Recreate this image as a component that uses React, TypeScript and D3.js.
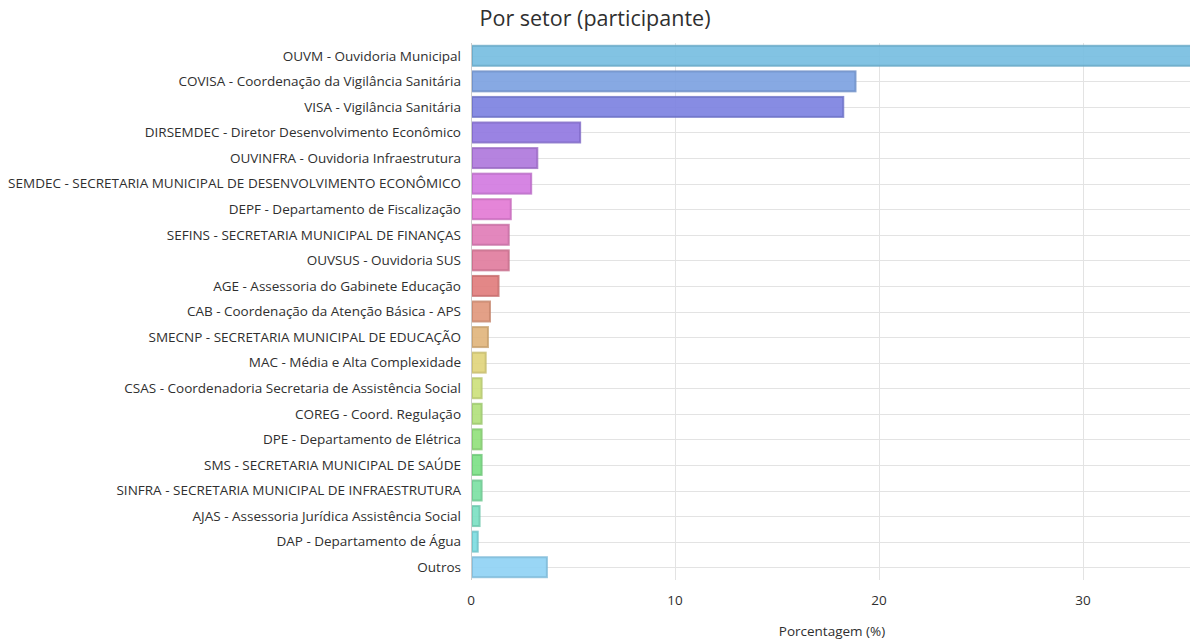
import { useEffect, useRef } from 'react';
import * as d3 from 'd3';

const categories = [
  'OUVM - Ouvidoria Municipal',
  'COVISA - Coordenação da Vigilância Sanitária',
  'VISA - Vigilância Sanitária',
  'DIRSEMDEC - Diretor Desenvolvimento Econômico',
  'OUVINFRA - Ouvidoria Infraestrutura',
  'SEMDEC - SECRETARIA MUNICIPAL DE DESENVOLVIMENTO ECONÔMICO',
  'DEPF - Departamento de Fiscalização',
  'SEFINS - SECRETARIA MUNICIPAL DE FINANÇAS',
  'OUVSUS - Ouvidoria SUS',
  'AGE - Assessoria do Gabinete Educação',
  'CAB - Coordenação da Atenção Básica - APS',
  'SMECNP - SECRETARIA MUNICIPAL DE EDUCAÇÃO',
  'MAC - Média e Alta Complexidade',
  'CSAS - Coordenadoria Secretaria de Assistência Social',
  'COREG - Coord. Regulação',
  'DPE - Departamento de Elétrica',
  'SMS - SECRETARIA MUNICIPAL DE SAÚDE',
  'SINFRA - SECRETARIA MUNICIPAL DE INFRAESTRUTURA',
  'AJAS - Assessoria Jurídica Assistência Social',
  'DAP - Departamento de Água',
  'Outros',
];

const values = [
  37.5, 18.9, 18.3, 5.4, 3.3, 3.0, 2.0, 1.9, 1.9, 1.4, 0.98, 0.88, 0.77,
  0.57, 0.57, 0.57, 0.57, 0.57, 0.47, 0.38, 3.77,
];

const xTicks = [0, 10, 20, 30];

const colors = [
  '#74bde0', '#7aa0e0', '#7a80e0', '#8f76e0', '#ad76dc', '#d278e0', '#e278d4',
  '#e07ab6', '#e07a9c', '#e07a7a', '#e0967a', '#e0b47a', '#e0d47a', '#cce07a',
  '#b0e07a', '#90e07a', '#7ae084', '#7ae0a2', '#7ae0c2', '#7adce0', '#8ed2f4',
];

const W = 1190;
const H = 640;
const left = 471;
const right = 1190;
const top = 43;
const bottom = 580;

export default function App() {
  const svgRef = useRef<SVGSVGElement>(null);

  useEffect(() => {
    const svg = d3.select(svgRef.current);
    svg.selectAll('*').remove();

    const x = d3.scaleLinear().domain([0, 35.25]).range([left, right]);
    const y = d3
      .scaleBand<string>()
      .domain(categories)
      .range([top, bottom])
      .paddingInner(0.14)
      .paddingOuter(0.07);

    const font = '"Open Sans", sans-serif';

    // title
    svg
      .append('text')
      .attr('x', W / 2)
      .attr('y', 26)
      .attr('text-anchor', 'middle')
      .attr('font-family', font)
      .attr('font-size', 21.5)
      .attr('fill', '#2f2f2f')
      .text('Por setor (participante)');

    // horizontal grid at category centres
    svg
      .append('g')
      .selectAll('line')
      .data(categories)
      .enter()
      .append('line')
      .attr('x1', left)
      .attr('x2', right)
      .attr('y1', (d) => Math.round(y(d)! + y.bandwidth() / 2) + 0.5)
      .attr('y2', (d) => Math.round(y(d)! + y.bandwidth() / 2) + 0.5)
      .attr('stroke', '#e3e3e3')
      .attr('stroke-width', 1);

    // vertical grid
    svg
      .append('g')
      .selectAll('line')
      .data(xTicks.slice(1))
      .enter()
      .append('line')
      .attr('x1', (d) => Math.round(x(d)) + 0.5)
      .attr('x2', (d) => Math.round(x(d)) + 0.5)
      .attr('y1', top)
      .attr('y2', bottom)
      .attr('stroke', '#e3e3e3');

    // bars
    svg
      .append('g')
      .selectAll('rect')
      .data(values)
      .enter()
      .append('rect')
      .attr('x', x(0) + 1)
      .attr('y', (_, i) => y(categories[i])! + 1)
      .attr('width', (d) => Math.max(0, x(d) - x(0) - 2))
      .attr('height', y.bandwidth() - 2)
      .attr('fill', (_, i) => colors[i])
      .attr('fill-opacity', 0.9)
      .attr('stroke', (_, i) => d3.color(colors[i])!.darker(0.35).toString())
      .attr('stroke-opacity', 0.8)
      .attr('stroke-width', 2);

    // left axis line
    svg
      .append('line')
      .attr('x1', left + 0.5)
      .attr('x2', left + 0.5)
      .attr('y1', top)
      .attr('y2', bottom)
      .attr('stroke', '#cccccc');

    // category labels
    svg
      .append('g')
      .selectAll('text')
      .data(categories)
      .enter()
      .append('text')
      .attr('x', left - 10)
      .attr('y', (d) => y(d)! + y.bandwidth() / 2)
      .attr('dy', '0.35em')
      .attr('text-anchor', 'end')
      .attr('font-family', font)
      .attr('font-size', 13.5)
      .attr('fill', '#2f2f2f')
      .text((d) => d);

    // x tick labels
    svg
      .append('g')
      .selectAll('text')
      .data(xTicks)
      .enter()
      .append('text')
      .attr('x', (d) => x(d))
      .attr('y', 605)
      .attr('text-anchor', 'middle')
      .attr('font-family', font)
      .attr('font-size', 13.5)
      .attr('fill', '#2f2f2f')
      .text((d) => String(d));

    svg
      .append('text')
      .attr('x', 832)
      .attr('y', 636)
      .attr('text-anchor', 'middle')
      .attr('font-family', font)
      .attr('font-size', 13.5)
      .attr('fill', '#2f2f2f')
      .text('Porcentagem (%)');
  }, []);

  return (
    <svg
      ref={svgRef}
      width={W}
      height={H}
      style={{ position: 'absolute', left: 0, top: 0, background: '#fff' }}
    />
  );
}
